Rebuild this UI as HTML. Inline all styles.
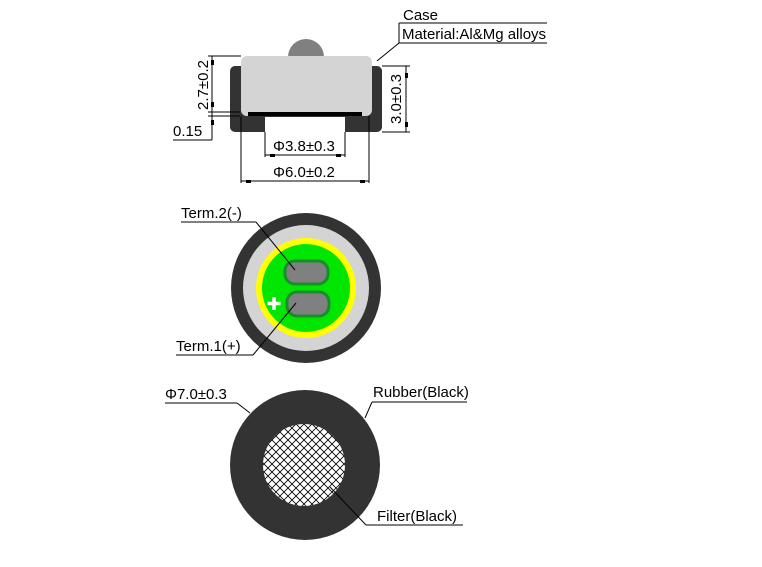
<!DOCTYPE html>
<html><head><meta charset="utf-8"><style>
html,body{margin:0;padding:0;background:#fff;}
svg{display:block;}
text{font-family:"Liberation Sans",sans-serif;font-size:15px;fill:#000;}
</style></head><body>
<svg width="762" height="567" viewBox="0 0 762 567" xmlns="http://www.w3.org/2000/svg">
<defs>
<pattern id="hatch" width="8" height="8" patternUnits="userSpaceOnUse">
<rect width="8" height="8" fill="#fff"/>
<path d="M0,0L8,8M8,0L0,8" stroke="#000" stroke-width="0.8"/>
</pattern>
</defs>
<circle cx="306" cy="57" r="18" fill="#808080"/>
<rect x="230" y="66" width="152" height="66" rx="5" fill="#333"/>
<rect x="241" y="56" width="131" height="60" rx="6" fill="#d4d4d4"/>
<rect x="248" y="112" width="114" height="4" fill="#000"/>
<rect x="265" y="117" width="80" height="15" fill="#fff"/>
<line x1="241" y1="116" x2="241" y2="183" stroke="#000"/>
<line x1="369" y1="116" x2="369" y2="183" stroke="#000"/>
<g stroke="#000" stroke-width="1" fill="none">
<line x1="208" y1="56" x2="241" y2="56"/>
<line x1="208" y1="112" x2="240" y2="112"/>
<line x1="208" y1="116" x2="240" y2="116"/>
<line x1="212" y1="56" x2="212" y2="140"/>
<line x1="173" y1="140" x2="212" y2="140"/>
<line x1="382" y1="66" x2="410" y2="66"/>
<line x1="382" y1="132" x2="410" y2="132"/>
<line x1="406" y1="66" x2="406" y2="132"/>
<line x1="265" y1="132" x2="265" y2="157"/>
<line x1="345" y1="132" x2="345" y2="157"/>
<line x1="265" y1="155" x2="345" y2="155"/>
<line x1="241" y1="181" x2="369" y2="181"/>
<line x1="399" y1="23" x2="547" y2="23"/>
<line x1="399" y1="23" x2="399" y2="43"/>
<line x1="399" y1="43" x2="547" y2="43"/>
<line x1="399" y1="43" x2="377" y2="61"/>
</g>
<g fill="#000">
<rect x="211" y="60" width="3" height="5"/><rect x="211" y="102" width="3" height="5"/><rect x="211" y="120" width="3" height="5"/>
<rect x="405" y="73" width="3" height="5"/><rect x="405" y="122" width="3" height="5"/>
<rect x="270" y="154" width="5" height="3"/><rect x="336" y="154" width="5" height="3"/>
<rect x="246" y="180" width="5" height="3"/><rect x="360" y="180" width="5" height="3"/>
</g>
<text x="403" y="20">Case</text>
<text x="402" y="39" textLength="144">Material:Al&amp;Mg alloys</text>
<text x="173" y="136">0.15</text>
<text x="273" y="151">Φ3.8±0.3</text>
<text x="273" y="177">Φ6.0±0.2</text>
<text transform="translate(208,85) rotate(-90)" text-anchor="middle">2.7±0.2</text>
<text transform="translate(401,99) rotate(-90)" text-anchor="middle">3.0±0.3</text>
<circle cx="306" cy="288" r="75" fill="#333"/>
<circle cx="306" cy="288" r="63" fill="#d4d4d4"/>
<circle cx="306" cy="288" r="50" fill="#ffff00"/>
<circle cx="306" cy="288" r="44" fill="#00e600"/>
<rect x="285" y="261" width="43" height="23" rx="10" fill="#808080" stroke="#1a8c2e" stroke-width="3"/>
<rect x="287" y="292" width="42" height="24" rx="10" fill="#808080" stroke="#1a8c2e" stroke-width="3"/>
<path d="M274,297v13M267.5,303.5h13" stroke="#fff" stroke-width="3.5"/>
<g stroke="#000" stroke-width="1" fill="none">
<line x1="181" y1="222" x2="256" y2="222"/>
<line x1="256" y1="222" x2="295" y2="270"/>
<line x1="176" y1="355" x2="253" y2="355"/>
<line x1="253" y1="355" x2="296" y2="303"/>
</g>
<text x="181" y="218">Term.2(-)</text>
<text x="176" y="351">Term.1(+)</text>
<circle cx="305" cy="465" r="75" fill="#333"/>
<circle cx="304" cy="465" r="41" fill="url(#hatch)"/>
<g stroke="#000" stroke-width="1" fill="none">
<line x1="165" y1="403" x2="237" y2="403"/>
<line x1="237" y1="403" x2="250" y2="413"/>
<line x1="372" y1="402" x2="467" y2="402"/>
<line x1="372" y1="402" x2="365" y2="418"/>
<line x1="366" y1="525" x2="463" y2="525"/>
<line x1="366" y1="525" x2="330" y2="487"/>
</g>
<text x="165" y="399">Φ7.0±0.3</text>
<text x="373" y="397">Rubber(Black)</text>
<text x="377" y="521">Filter(Black)</text>
</svg>
</body></html>
